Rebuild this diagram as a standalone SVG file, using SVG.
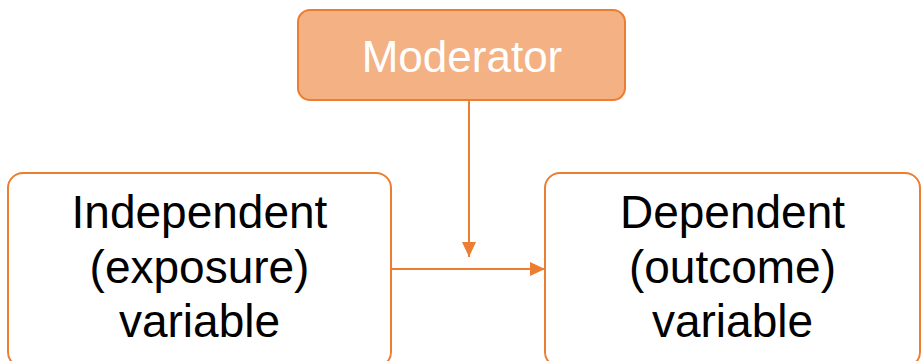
<svg xmlns="http://www.w3.org/2000/svg" width="922" height="361" viewBox="0 0 922 361">
  <defs>
    <marker id="arrow" markerUnits="userSpaceOnUse" viewBox="0 0 15 14" markerWidth="15" markerHeight="14" refX="15" refY="7" orient="auto">
      <path d="M0,0 L15,7 L0,14 z" fill="#ED7D31"/>
    </marker>
    <style>
      .box { fill: #FFFFFF; stroke: #ED7D31; stroke-width: 2; }
      .mod { fill: #F4B183; stroke: #ED7D31; stroke-width: 2; }
      .lbl { font-family: "Liberation Sans", Arial, sans-serif; font-size: 46px; fill: #000000; text-anchor: middle; }
      .modlbl { font-family: "Liberation Sans", Arial, sans-serif; font-size: 44px; fill: #FFFFFF; text-anchor: middle; }
      .conn { stroke: #ED7D31; stroke-width: 2; fill: none; }
    </style>
  </defs>
  <rect width="922" height="361" fill="#FFFFFF"/>
  <g id="connectors">
    <line class="conn" x1="469" y1="101" x2="469" y2="257" marker-end="url(#arrow)"/>
    <line class="conn" x1="391" y1="269" x2="545" y2="269" marker-end="url(#arrow)"/>
  </g>
  <g id="moderator">
    <rect class="mod" x="298" y="10" width="327" height="90" rx="12" ry="12"/>
    <text class="modlbl" x="462" y="72">Moderator</text>
  </g>
  <g id="independent">
    <rect class="box" x="8" y="173" width="383" height="194" rx="15" ry="15"/>
    <text class="lbl" x="199.5" y="228">Independent</text>
    <text class="lbl" x="199.5" y="283">(exposure)</text>
    <text class="lbl" x="199.5" y="337">variable</text>
  </g>
  <g id="dependent">
    <rect class="box" x="545" y="173" width="375" height="194" rx="15" ry="15"/>
    <text class="lbl" x="732.5" y="228">Dependent</text>
    <text class="lbl" x="732.5" y="283">(outcome)</text>
    <text class="lbl" x="732.5" y="337">variable</text>
  </g>
</svg>
